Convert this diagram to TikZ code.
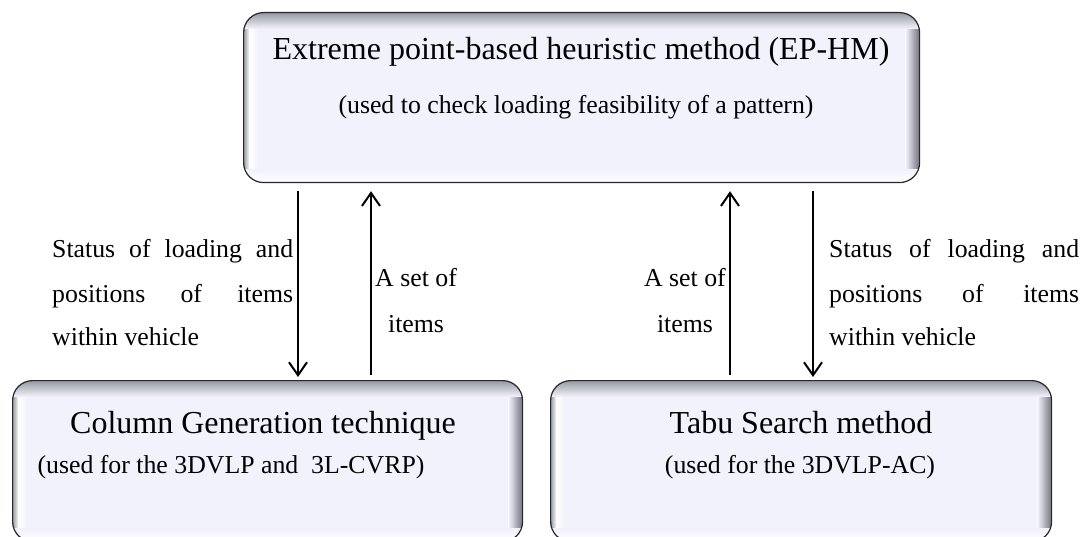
\documentclass[tikz,border=0pt]{standalone}
\usepackage{fontspec}
\setmainfont{Liberation Serif}
\usetikzlibrary{arrows.meta}

\definecolor{panelfill}{RGB}{242,242,252}
\definecolor{paneledge}{RGB}{40,40,44}
\definecolor{bevel}{RGB}{150,154,160}
\definecolor{bevelside}{RGB}{110,114,122}

\newcommand{\bigtxt}{\fontsize{32}{38}\selectfont}
\newcommand{\smalltxt}{\fontsize{25.8}{31}\selectfont}

\tikzset{
  x=1pt, y=1pt,
  panel/.style={
    draw=paneledge, line width=1.2pt, rounded corners=20pt, fill=panelfill,
    inner sep=0pt, anchor=north west,
    path picture={
      \coordinate (pnw) at (path picture bounding box.north west);
      \coordinate (pse) at (path picture bounding box.south east);
      % shaded right rim
      \shade[sharp corners, left color=panelfill, right color=bevelside]
        ([xshift=-14pt]pse |- pnw) rectangle (pse);
      % left rim with a light highlight inside it
      \shade[sharp corners, left color=bevel, right color=white]
        (pnw) rectangle ([xshift=6pt]pnw |- pse);
      \shade[sharp corners, left color=white, right color=panelfill]
        ([xshift=6pt]pnw) rectangle ([xshift=14pt]pnw |- pse);
      % light lower rim
      \shade[sharp corners, top color=panelfill, bottom color=white]
        ([yshift=13pt]pnw |- pse) rectangle (pse);
      % grey upper rim
      \shade[sharp corners, top color=bevel, bottom color=panelfill]
        (pnw) rectangle ([yshift=-16pt]pse |- pnw);
    }},
  title/.style={font=\bigtxt, inner sep=0pt, anchor=base},
  note/.style={font=\smalltxt, inner sep=0pt, anchor=base},
  flow/.style={-{Straight Barb[length=13pt,width=18pt]}, line width=2pt, black},
}

\begin{document}
\begin{tikzpicture}
\useasboundingbox (0,0) rectangle (1086,-537);

% the three method boxes
\node[panel, minimum width=676pt, minimum height=170pt] (ep) at (243,-12) {};
\node[panel, minimum width=510pt, minimum height=161pt] (cg) at (12,-380) {};
\node[panel, minimum width=501pt, minimum height=161pt] (ts) at (550,-380) {};

% box texts
\node[title] (ep1) at (581,-60) {Extreme point-based heuristic method (EP-HM)};
\node[note]  (ep2) at (576,-114) {(used to check loading feasibility of a pattern)};
\node[title] (cg1) at (263,-433) {Column Generation technique};
\node[note]  (cg2) at (231,-473) {(used for the 3DVLP and~~3L-CVRP)};
\node[title] (ts1) at (801,-433) {Tabu Search method};
\node[note]  (ts2) at (800,-473) {(used for the 3DVLP-AC)};

% arrow columns
\coordinate (ax1) at (298,0);
\coordinate (ax2) at (371,0);
\coordinate (ax3) at (730,0);
\coordinate (ax4) at (813,0);

\draw[flow, shorten <=8pt, shorten >=3pt] (ep.south -| ax1) -- (cg.north -| ax1);
\draw[flow, shorten <=5pt, shorten >=8pt] (cg.north -| ax2) -- (ep.south -| ax2);
\draw[flow, shorten <=5pt, shorten >=8pt] (ts.north -| ax3) -- (ep.south -| ax3);
\draw[flow, shorten <=8pt, shorten >=3pt] (ep.south -| ax4) -- (ts.north -| ax4);

% arrow labels
\node[note, anchor=base west] (lstat) at (52,-258) {\vtop{\baselineskip=44pt
  \hbox{\makebox[241pt][s]{Status of loading and}}
  \hbox{\makebox[241pt][s]{positions of items}}
  \hbox{within vehicle}}};
\node[note, anchor=base west] (lset) at (375,-287) {\vtop{\baselineskip=45pt
  \halign{\hfil#\hfil\cr A set of\cr items\cr}}};
\node[note, anchor=base east] (rset) at (726,-287) {\vtop{\baselineskip=45pt
  \halign{\hfil#\hfil\cr A set of\cr items\cr}}};
\node[note, anchor=base west] (rstat) at (829,-258) {\vtop{\baselineskip=44pt
  \hbox{\makebox[250pt][s]{Status of loading and}}
  \hbox{\makebox[250pt][s]{positions of items}}
  \hbox{within vehicle}}};
\end{tikzpicture}
\end{document}
